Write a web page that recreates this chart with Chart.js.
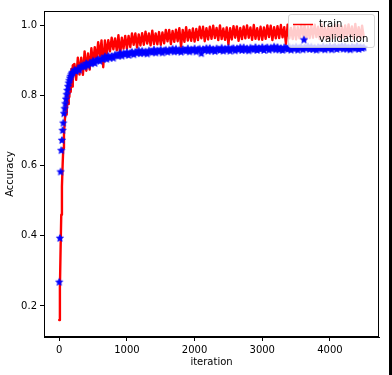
<!DOCTYPE html>
<html><head><meta charset="utf-8">
<script src="https://cdn.jsdelivr.net/npm/chart.js@4.4.0/dist/chart.umd.min.js"></script>
<style>
html,body{margin:0;padding:0;background:#fff;}
#wrap{position:relative;width:392px;height:375px;overflow:hidden;background:#fff;}
#edge{position:absolute;left:389px;top:0;width:3px;height:375px;background:#000;}
</style></head><body>
<div id="wrap"><canvas id="c" width="392" height="375"></canvas><div id="edge"></div></div>
<script>
const iterations = [
0,10,20,30,40,50,60,70,80,90,100,110,120,130,140,150,160,170,180,190,200,
225,250,275,300,325,350,375,400,425,450,
475,500,525,550,575,600,625,650,675,700,
725,750,775,800,825,850,875,900,925,950,
975,1000,1025,1050,1075,1100,1125,1150,1175,1200,
1225,1250,1275,1300,1325,1350,1375,1400,1425,1450,
1475,1500,1525,1550,1575,1600,1625,1650,1675,1700,
1725,1750,1775,1800,1825,1850,1875,1900,1925,1950,
1975,2000,2025,2050,2075,2100,2125,2150,2175,2200,
2225,2250,2275,2300,2325,2350,2375,2400,2425,2450,
2475,2500,2525,2550,2575,2600,2625,2650,2675,2700,
2725,2750,2775,2800,2825,2850,2875,2900,2925,2950,
2975,3000,3025,3050,3075,3100,3125,3150,3175,3200,
3225,3250,3275,3300,3325,3350,3375,3400,3425,3450,
3475,3500,3525,3550,3575,3600,3625,3650,3675,3700,
3725,3750,3775,3800,3825,3850,3875,3900,3925,3950,
3975,4000,4025,4050,4075,4100,4125,4150,4175,4200,
4225,4250,4275,4300,4325,4350,4375,4400,4425,4450,
4475,4500];

const trainAccuracy = [
0.160,0.250,0.360,0.460,0.540,0.600,0.650,0.690,0.720,0.750,0.770,0.745,0.800,0.775,0.830,0.795,0.860,0.810,0.875,0.825,0.885,
0.889,0.844,0.907,0.859,0.907,0.858,0.925,0.870,0.919,0.873,
0.934,0.889,0.937,0.899,0.951,0.911,0.956,0.880,0.956,0.916,
0.957,0.925,0.964,0.931,0.962,0.928,0.971,0.915,0.964,0.933,
0.969,0.933,0.969,0.937,0.976,0.944,0.976,0.936,0.973,0.942,
0.977,0.944,0.981,0.947,0.976,0.942,0.984,0.946,0.976,0.945,
0.980,0.944,0.979,0.948,0.986,0.954,0.986,0.946,0.983,0.952,
0.987,0.954,0.991,0.938,0.986,0.952,0.994,0.956,0.986,0.955,
0.990,0.953,0.989,0.957,0.995,0.962,0.995,0.954,0.991,0.959,
0.995,0.961,0.998,0.963,0.992,0.957,0.999,0.960,0.990,0.958,
0.993,0.945,0.991,0.959,0.997,0.964,0.996,0.955,0.992,0.960,
0.996,0.962,0.999,0.964,0.993,0.958,1.000,0.961,0.991,0.959,
0.995,0.958,0.993,0.961,0.999,0.966,0.998,0.957,0.994,0.962,
0.997,0.963,1.000,0.965,0.994,0.946,1.001,0.962,0.992,0.960,
0.996,0.959,0.994,0.962,1.000,0.967,0.999,0.958,0.995,0.963,
0.998,0.964,1.001,0.966,0.995,0.960,1.002,0.963,0.993,0.961,
0.997,0.960,0.995,0.963,1.001,0.968,1.000,0.959,0.996,0.964,
0.999,0.965,1.002,0.967,0.996,0.961,1.003,0.964,0.994,0.962,
0.998,0.966];

const validationAccuracy = [
0.269,0.394,0.583,0.644,0.673,0.701,0.722,0.749,0.763,0.777,0.790,0.803,0.815,0.826,0.836,0.843,0.850,0.855,0.860,0.864,0.866,
0.873,0.869,0.876,0.873,0.884,0.883,0.883,0.892,0.885,0.893,
0.891,0.899,0.892,0.900,0.903,0.898,0.905,0.904,0.911,0.904,
0.913,0.907,0.912,0.907,0.916,0.914,0.913,0.921,0.913,0.920,
0.917,0.923,0.915,0.921,0.924,0.917,0.924,0.921,0.928,0.920,
0.927,0.921,0.925,0.919,0.928,0.925,0.923,0.931,0.922,0.928,
0.925,0.931,0.922,0.928,0.930,0.924,0.930,0.927,0.933,0.925,
0.933,0.926,0.930,0.924,0.932,0.929,0.927,0.934,0.925,0.931,
0.928,0.934,0.925,0.931,0.933,0.920,0.932,0.929,0.935,0.927,
0.935,0.928,0.932,0.926,0.934,0.931,0.929,0.936,0.927,0.933,
0.930,0.936,0.927,0.933,0.935,0.928,0.934,0.931,0.937,0.929,
0.937,0.930,0.934,0.928,0.936,0.933,0.931,0.938,0.929,0.935,
0.932,0.938,0.929,0.935,0.937,0.930,0.936,0.933,0.939,0.931,
0.938,0.931,0.935,0.929,0.937,0.934,0.932,0.939,0.930,0.936,
0.933,0.939,0.930,0.936,0.938,0.931,0.937,0.934,0.940,0.932,
0.939,0.932,0.936,0.930,0.938,0.935,0.933,0.940,0.931,0.937,
0.934,0.940,0.931,0.937,0.939,0.932,0.938,0.935,0.941,0.933,
0.940,0.933,0.937,0.931,0.939,0.936,0.934,0.941,0.932,0.938,
0.935,0.937];

const seriesNames = ['train', 'validation'];
const xTickValues = [0, 1000, 2000, 3000, 4000];
const yTickValues = [0.2, 0.4, 0.6, 0.8, 1.0];
const xTitle = 'iteration';
const yTitle = 'Accuracy';

const FONT = 'DejaVu Sans';

function makeStar(color, r) {
  const s = Math.ceil(r * 2 + 2);
  const cv = document.createElement('canvas');
  cv.width = s; cv.height = s;
  const g = cv.getContext('2d');
  g.fillStyle = color; g.strokeStyle = color; g.lineWidth = 0.8;
  g.beginPath();
  for (let i = 0; i < 10; i++) {
    const ang = -Math.PI / 2 + i * Math.PI / 5;
    const rr = i % 2 === 0 ? r : r * 0.45;
    const px = s / 2 + rr * Math.cos(ang), py = s / 2 + 0.4 + rr * Math.sin(ang);
    if (i) g.lineTo(px, py); else g.moveTo(px, py);
  }
  g.closePath(); g.fill(); g.stroke();
  return cv;
}
const starImg = makeStar('#0000ff', 3.7);

const framePlugin = {
  id: 'mplFrameLegend',
  afterDraw(chart) {
    const { ctx, chartArea: a } = chart;
    ctx.save();
    ctx.strokeStyle = '#000'; ctx.lineWidth = 1;
    ctx.strokeRect(Math.round(a.left) + 0.5, Math.round(a.top) + 0.5,
                   Math.round(a.right - a.left) - 1, Math.round(a.bottom - a.top) - 1);
    const w = 86, h = 33;
    const x = Math.round(a.right - 5 - w), y = Math.round(a.top + 3);
    ctx.beginPath();
    ctx.roundRect(x + 0.5, y + 0.5, w, h, 2.5);
    ctx.fillStyle = 'rgba(255,255,255,0.8)'; ctx.fill();
    ctx.strokeStyle = 'rgba(204,204,204,0.8)'; ctx.stroke();
    const ds = chart.data.datasets;
    const r1 = y + 10.5, r2 = y + 25.5;
    ctx.strokeStyle = ds[1].borderColor; ctx.lineWidth = 1.5;
    ctx.beginPath(); ctx.moveTo(x + 5, r1); ctx.lineTo(x + 25, r1); ctx.stroke();
    ctx.drawImage(starImg, x + 16 - starImg.width / 2, r2 - starImg.height / 2);
    ctx.fillStyle = '#000';
    ctx.font = '10px "' + FONT + '"';
    ctx.textBaseline = 'middle'; ctx.textAlign = 'left';
    ctx.fillText(ds[1].label, x + 31, r1);
    ctx.fillText(ds[0].label, x + 31, r2);
    ctx.restore();
  }
};

new Chart(document.getElementById('c'), {
  type: 'scatter',
  data: {
    datasets: [
      {
        label: seriesNames[1],
        data: iterations.map((v, i) => ({ x: v, y: validationAccuracy[i] })),
        showLine: false,
        pointStyle: starImg,
        pointRadius: 3.7,
        backgroundColor: '#0000ff',
        borderColor: '#0000ff',
        order: 1
      },
      {
        label: seriesNames[0],
        data: iterations.map((v, i) => ({ x: v, y: trainAccuracy[i] })),
        showLine: true,
        pointRadius: 0,
        borderColor: '#ff0000',
        backgroundColor: '#ff0000',
        borderWidth: 2.4,
        borderJoinStyle: 'round',
        borderCapStyle: 'round',
        tension: 0,
        order: 2
      }
    ]
  },
  options: {
    responsive: false,
    animation: false,
    devicePixelRatio: 1,
    layout: { padding: { top: 11, right: 13, left: 0, bottom: 0 } },
    plugins: { legend: { display: false }, tooltip: { enabled: false } },
    scales: {
      x: {
        type: 'linear', min: -225, max: 4725,
        afterBuildTicks: s => { s.ticks = xTickValues.map(v => ({ value: v })); },
        afterFit: s => { s.height = 38; },
        ticks: { color: '#000', font: { family: FONT, size: 10 }, padding: 3, maxRotation: 0,
                 callback: v => String(v) },
        grid: { display: true, drawOnChartArea: false, drawTicks: true, tickLength: 4, color: '#000', lineWidth: 1 },
        border: { display: true, color: '#000', width: 1 },
        title: { display: true, text: xTitle, color: '#000', font: { family: FONT, size: 10 }, padding: { top: 0, bottom: 6.5 } }
      },
      y: {
        type: 'linear', min: 0.1117, max: 1.04,
        afterBuildTicks: s => { s.ticks = yTickValues.map(v => ({ value: v })); },
        afterFit: s => { s.width = 44; },
        ticks: { color: '#000', font: { family: FONT, size: 10 }, padding: 3,
                 callback: v => Number(v).toFixed(1) },
        grid: { display: true, drawOnChartArea: false, drawTicks: true, tickLength: 4, color: '#000', lineWidth: 1 },
        border: { display: true, color: '#000', width: 1 },
        title: { display: true, text: yTitle, color: '#000', font: { family: FONT, size: 10 }, padding: { top: 4.5, bottom: 0 } }
      }
    }
  },
  plugins: [framePlugin]
});
</script>
</body></html>
